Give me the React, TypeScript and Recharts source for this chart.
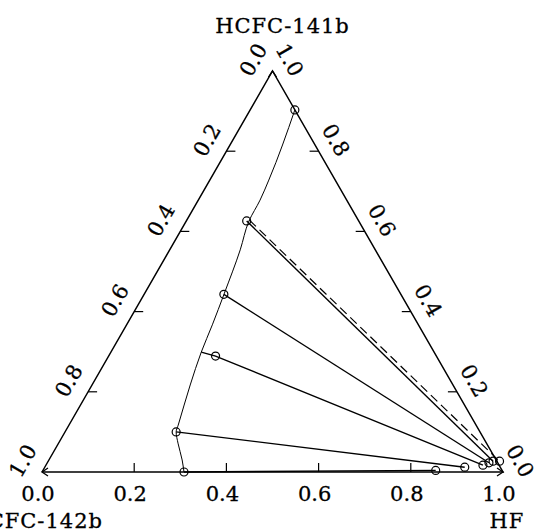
import React from "react";
import { ComposedChart, Line, Scatter, XAxis, YAxis } from "recharts";

// ternary points as [HF, HCFC-141b]; HCFC-142b = 1 - HF - HCFC-141b
const envelope: [number, number][] = [
  [0.097, 0.903],
  [0.128, 0.728],
  [0.134, 0.678],
  [0.136, 0.626],
  [0.153, 0.554],
  [0.173, 0.444],
  [0.186, 0.367],
  [0.196, 0.299],
  [0.213, 0.217],
  [0.237, 0.117],
  [0.241, 0.1],
  [0.259, 0.072],
  [0.289, 0.03],
  [0.308, 0.0],
];

const tieLines: [number, number][][] = [
  [[0.131, 0.626], [0.965, 0.027]],
  [[0.173, 0.443], [0.958, 0.023]],
  [[0.196, 0.299], [0.232, 0.289], [0.948, 0.017]],
  [[0.241, 0.1], [0.911, 0.012]],
  [[0.308, 0.0], [0.852, 0.004]],
];

const dashedTie: [number, number][] = [
  [0.136, 0.628],
  [0.98, 0.026],
];

const leftPhase: [number, number][] = [
  [0.097, 0.903],
  [0.131, 0.626],
  [0.173, 0.443],
  [0.232, 0.289],
  [0.241, 0.1],
  [0.308, 0.0],
];

const rightPhase: [number, number][] = [
  [0.852, 0.004],
  [0.911, 0.012],
  [0.948, 0.017],
  [0.958, 0.023],
  [0.965, 0.027],
  [0.979, 0.027],
];

const tickValues = [0.2, 0.4, 0.6, 0.8];
const labelValues = [0.0, 0.2, 0.4, 0.6, 0.8, 1.0];

const toXY = ([hf, a]: [number, number]) => ({ x: hf + a / 2, y: a });

const FONT = "DejaVu Serif";

const frame = [toXY([0, 0]), toXY([1, 0]), toXY([0, 1]), toXY([0, 0])];

// tick marks on the three sides
const ticks = [
  ...tickValues.map((v) => ({ ...toXY([v, 0]), dx: 0, dy: -9 })),
  ...tickValues.map((v) => ({ ...toXY([0, 1 - v]), dx: 9, dy: 0 })),
  ...tickValues.map((v) => ({ ...toXY([1 - v, v]), dx: -9, dy: 0 })),
];

const labels = [
  ...labelValues.map((v) => ({ ...toXY([v, 0]), text: v.toFixed(1), dx: -4, dy: 22, rot: 0 })),
  ...labelValues.map((v) => ({ ...toXY([0, 1 - v]), text: v.toFixed(1), dx: -19, dy: -11, rot: -60 })),
  ...labelValues.map((v) => ({ ...toXY([1 - v, v]), text: v.toFixed(1), dx: 17, dy: -11, rot: 60 })),
];

const titles = [
  { ...toXY([0, 1]), text: "HCFC-141b", dx: 10, dy: -38, anchor: "middle" },
  { ...toXY([1, 0]), text: "HF", dx: 4, dy: 56, anchor: "middle" },
  { ...toXY([0, 0]), text: "HCFC-142b", dx: 61, dy: 56, anchor: "end" },
];

const arrows = [
  { ...toXY([0, 0]), d: "M6 -4 L0 0 L6 4" },
  { ...toXY([1, 0]), d: "M-6 -4 L0 0 L-6 4" },
  { ...toXY([0, 1]), d: "M-4 6 L0 0 L4 6" },
];

const App: React.FC = () => {
  return (
    <div style={{ position: "absolute", left: 0, top: 0, background: "#fff" }}>
      <ComposedChart
        width={535}
        height={531}
        margin={{ top: 71, right: 32, left: 42, bottom: 59 }}
      >
        <XAxis type="number" dataKey="x" domain={[0, 1]} hide />
        <YAxis type="number" dataKey="y" domain={[0, 1]} hide />
        <Line
          data={frame}
          dataKey="y"
          stroke="#000"
          strokeWidth={1.5}
          dot={false}
          isAnimationActive={false}
        />
        <Line
          data={envelope.map(toXY)}
          dataKey="y"
          type="monotoneY"
          stroke="#000"
          strokeWidth={1}
          dot={false}
          isAnimationActive={false}
        />
        {tieLines.map((t, i) => (
          <Line
            key={i}
            data={t.map(toXY)}
            dataKey="y"
            stroke="#000"
            strokeWidth={1.4}
            dot={false}
            isAnimationActive={false}
          />
        ))}
        <Line
          data={dashedTie.map(toXY)}
          dataKey="y"
          stroke="#000"
          strokeWidth={1.2}
          strokeDasharray="9 5"
          dot={false}
          isAnimationActive={false}
        />
        <Scatter
          data={ticks}
          dataKey="y"
          isAnimationActive={false}
          shape={(p: any) => (
            <line
              x1={p.cx}
              y1={p.cy}
              x2={p.cx + p.payload.dx}
              y2={p.cy + p.payload.dy}
              stroke="#000"
              strokeWidth={1.2}
            />
          )}
        />
        <Scatter
          data={arrows}
          dataKey="y"
          isAnimationActive={false}
          shape={(p: any) => (
            <path
              d={p.payload.d}
              transform={`translate(${p.cx} ${p.cy})`}
              fill="none"
              stroke="#000"
              strokeWidth={1.3}
            />
          )}
        />
        <Scatter
          data={[...leftPhase, ...rightPhase].map(toXY)}
          dataKey="y"
          isAnimationActive={false}
          shape={(p: any) => (
            <circle cx={p.cx} cy={p.cy} r={4} fill="none" stroke="#000" strokeWidth={1.2} />
          )}
        />
        <Scatter
          data={labels}
          dataKey="y"
          isAnimationActive={false}
          shape={(p: any) => {
            const x = p.cx + p.payload.dx;
            const y = p.cy + p.payload.dy;
            return (
              <text
                x={x}
                y={y}
                textAnchor="middle"
                dominantBaseline="central"
                fontFamily={FONT}
                fontSize={21}
                fill="#000"
                stroke="#000"
                strokeWidth={0.3}
                transform={`rotate(${p.payload.rot} ${x} ${y})`}
              >
                {p.payload.text}
              </text>
            );
          }}
        />
        <Scatter
          data={titles}
          dataKey="y"
          isAnimationActive={false}
          shape={(p: any) => (
            <text
              x={p.cx + p.payload.dx}
              y={p.cy + p.payload.dy}
              textAnchor={p.payload.anchor}
              fontFamily={FONT}
              fontSize={21}
              letterSpacing={1}
              fill="#000"
              stroke="#000"
              strokeWidth={0.3}
            >
              {p.payload.text}
            </text>
          )}
        />
      </ComposedChart>
    </div>
  );
};

export default App;
